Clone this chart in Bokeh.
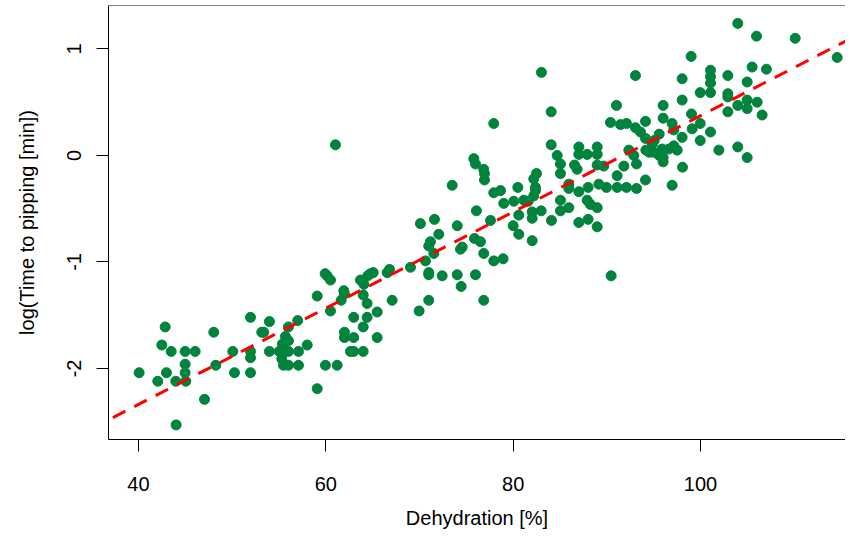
from bokeh.plotting import figure
from bokeh.models import Range1d, FixedTicker, Slope, Span
from bokeh.embed import file_html
from bokeh.resources import INLINE

# ---- data ----
dehydration = [
    42.85, 42.49, 43.49, 44.98, 46.05, 44.98, 44.98, 40.07, 42.99, 42.06,
    43.98, 45.05, 47.05, 44.02, 48.04, 48.25, 50.07, 50.25, 51.96, 51.96,
    51.96, 51.96, 53.16, 53.38, 53.98, 53.98, 55.02, 55.30, 56.01, 55.69,
    56.01, 55.37, 56.01, 55.48, 56.01, 57.08, 57.08, 57.00, 58.01,
    69.04, 67.08, 66.55, 66.80, 64.77, 64.48, 65.06, 63.70, 64.06, 63.99,
    64.41, 65.48, 64.41, 63.99, 65.48, 62.98, 61.99, 61.99, 62.98, 62.63,
    62.98, 63.99, 61.92, 61.99, 61.64, 60.50, 60.50, 60.14, 59.93, 59.08,
    59.96, 61.21, 59.08, 69.96, 70.99, 76.86,
    84.06, 84.70, 85.05, 87.01, 87.01, 87.90, 88.97, 88.97, 86.55, 86.83,
    85.05, 82.49, 82.20, 80.50, 82.38, 82.38, 82.20, 85.94, 85.94, 87.01,
    88.00, 89.15, 89.96, 91.10, 91.10, 88.97, 89.67, 85.05, 85.05, 85.94,
    87.90, 88.25, 88.97, 87.01, 88.00, 88.97, 84.09, 82.99, 82.03, 82.03,
    82.03, 80.60, 80.00, 80.60, 79.00, 80.07, 81.14, 81.60, 77.93, 78.65,
    75.80, 75.98, 76.86, 76.94, 76.94, 73.49, 76.08, 77.58, 74.03, 71.60,
    70.10, 72.06, 71.17, 70.99, 71.53, 70.64, 70.99, 70.99, 72.42, 74.03,
    75.98, 74.45, 74.38, 74.56, 75.87, 76.51, 76.86, 77.93, 78.93, 90.46,
    84.06, 91.03, 96.01, 98.04, 99.97, 101.07, 99.04, 96.01, 94.13, 90.39,
    91.46, 92.10, 93.06, 93.59, 96.97, 97.15, 99.97, 99.11, 101.07, 98.04,
    99.97, 95.59, 94.13, 95.06, 94.87, 94.17, 94.52, 95.00, 95.90, 96.61,
    97.15, 97.51, 95.59, 96.01, 96.01, 98.08, 96.97, 101.96, 94.13, 92.35,
    92.88, 93.17, 91.82, 93.17, 92.10,
    103.98, 105.98, 110.11, 114.59, 99.00, 105.51, 107.04, 101.07, 101.07, 101.07,
    102.92, 98.04, 104.98, 102.92, 102.92, 104.98, 104.98, 103.98, 106.05, 102.92,
    106.58, 103.98, 104.98,
    61.03, 77.93, 83.02, 93.06,
]

log_time_to_pipping = [
    -1.61, -1.78, -1.84, -1.84, -1.84, -1.96, -2.04, -2.04, -2.04, -2.12,
    -2.12, -2.12, -2.29, -2.53, -1.66, -1.97, -1.84, -2.04, -1.52, -1.84,
    -1.90, -2.04, -1.66, -1.66, -1.56, -1.84, -1.84, -1.91, -1.61, -1.70,
    -1.74, -1.77, -1.84, -1.97, -1.97, -1.84, -1.97, -1.55, -1.78,
    -1.05, -1.36, -1.10, -1.07, -1.11, -1.13, -1.10, -1.17, -1.21, -1.31,
    -1.39, -1.47, -1.52, -1.61, -1.71, -1.52, -1.66, -1.71, -1.71, -1.84,
    -1.84, -1.84, -1.27, -1.30, -1.36, -1.46, -1.17, -1.13, -1.11, -1.32,
    -1.97, -1.97, -2.19, -1.46, -1.36, -1.36,
    0.10, 0.00, -0.08, 0.08, 0.01, 0.01, 0.08, 0.01, -0.09, -0.13,
    -0.17, -0.17, -0.22, -0.30, -0.30, -0.33, -0.38, -0.27, -0.31, -0.34,
    -0.30, -0.27, -0.30, -0.30, -0.19, -0.09, -0.10, -0.42, -0.52, -0.49,
    -0.42, -0.46, -0.49, -0.63, -0.60, -0.67, -0.61, -0.52, -0.53, -0.59,
    -0.80, -0.56, -0.66, -0.74, -0.45, -0.43, -0.42, -0.43, -0.35, -0.33,
    -0.03, -0.08, -0.13, -0.17, -0.23, -0.28, -0.52, -0.61, -0.66, -0.60,
    -0.64, -0.74, -0.81, -0.85, -0.92, -0.99, -1.10, -1.12, -1.13, -1.12,
    -1.12, -1.23, -0.88, -0.86, -0.78, -0.81, -0.92, -0.99, -0.97, -1.13,
    0.41, 0.47, 0.47, 0.52, 0.59, 0.59, 0.39, 0.35, 0.32, 0.31,
    0.29, 0.30, 0.26, 0.22, 0.30, 0.24, 0.30, 0.25, 0.22, 0.17,
    0.14, 0.20, 0.16, 0.14, 0.11, 0.05, 0.03, 0.03, 0.06, 0.06,
    0.09, 0.05, 0.00, -0.06, -0.02, -0.11, -0.28, 0.05, -0.23, 0.05,
    0.00, -0.08, -0.10, -0.31, -0.30,
    1.24, 1.12, 1.10, 0.92, 0.93, 0.83, 0.81, 0.80, 0.74, 0.68,
    0.75, 0.72, 0.69, 0.58, 0.55, 0.52, 0.44, 0.47, 0.50, 0.41,
    0.38, 0.08, -0.02,
    0.10, 0.30, 0.78, 0.75,
]

# fitted regression line (log time = intercept + slope * dehydration)
fit_intercept = -4.145
fit_slope = 0.04518

x_ticks = [40, 60, 80, 100]
y_ticks = [-2, -1, 0, 1]
y_tick_labels = {-2: "-2", -1: "-1", 0: "0", 1: "1"}
x_tick_labels = {40: "40", 60: "60", 80: "80", 100: "100"}

x_start, x_end = 36.80, 115.48
y_start, y_end = -2.667, 1.408

FONT = "Liberation Sans"
FS = "20px"

p = figure(width=845, height=532, output_backend="svg", toolbar_location=None,
           x_range=Range1d(x_start, x_end), y_range=Range1d(y_start, y_end),
           min_border_left=108, min_border_right=0, min_border_top=5,
           min_border_bottom=93)

p.background_fill_color = "white"
p.border_fill_color = "white"
p.outline_line_color = None
p.grid.visible = False

p.scatter(dehydration, log_time_to_pipping, size=10, marker="circle",
          fill_color="#00843D", line_color="#00843D")

p.add_layout(Slope(gradient=fit_slope, y_intercept=fit_intercept,
                   line_color="#FF0000", line_width=3, line_dash="14 10"))

# top border of the box (the right side is cut off in the reference)
p.add_layout(Span(location=y_end, dimension="width", line_color="black",
                  line_width=1))

for ax in (p.xaxis[0], p.yaxis[0]):
    ax.axis_line_color = "black"
    ax.axis_line_width = 1
    ax.major_tick_line_color = "black"
    ax.major_tick_out = 12
    ax.major_tick_in = 0
    ax.minor_tick_out = 0
    ax.minor_tick_in = 0
    ax.major_label_text_font = FONT
    ax.major_label_text_font_size = FS
    ax.major_label_text_color = "black"
    ax.axis_label_text_font = FONT
    ax.axis_label_text_font_size = FS
    ax.axis_label_text_font_style = "normal"
    ax.axis_label_text_color = "black"

p.xaxis.ticker = FixedTicker(ticks=x_ticks)
p.xaxis.major_label_overrides = x_tick_labels
p.xaxis.major_label_standoff = 25
p.xaxis.axis_label = "Dehydration [%]"
p.xaxis.axis_label_standoff = 13

p.yaxis.ticker = FixedTicker(ticks=y_ticks)
p.yaxis.major_label_overrides = y_tick_labels
p.yaxis.major_label_orientation = "vertical"
p.yaxis.major_label_standoff = 15
p.yaxis.axis_label = "log(Time to pipping [min])"
p.yaxis.axis_label_standoff = 27

open("out.html", "w").write(file_html(p, INLINE))
